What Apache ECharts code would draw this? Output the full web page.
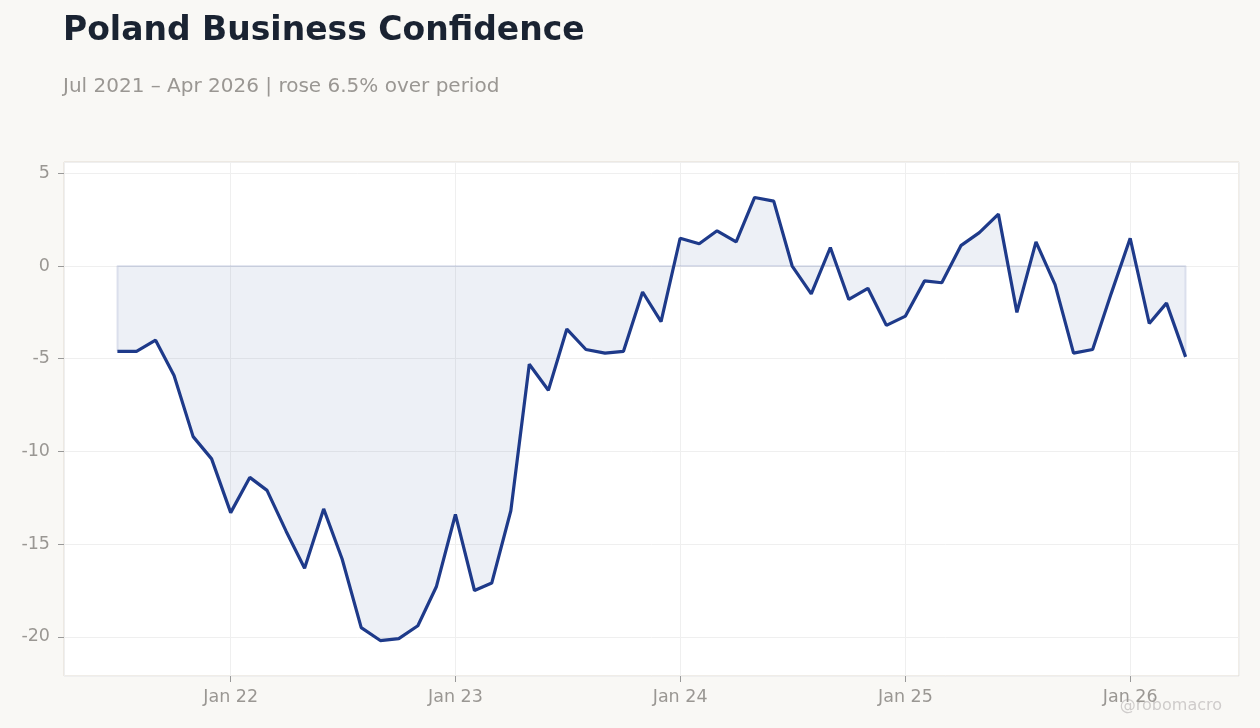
<!DOCTYPE html>
<html>
<head>
<meta charset="utf-8">
<title>Poland Business Confidence</title>
<script src="https://cdn.jsdelivr.net/npm/echarts@6/dist/echarts.min.js"></script>
<style>
  html, body { margin: 0; padding: 0; background: #f9f8f5; }
  #chart { width: 1260px; height: 728px; }
</style>
</head>
<body>
<div id="chart"></div>
<script>
// monthly readings, Jul 2021 - Apr 2026
const months = [
  '2021-07', '2021-08', '2021-09', '2021-10', '2021-11', '2021-12',
  '2022-01', '2022-02', '2022-03', '2022-04', '2022-05', '2022-06',
  '2022-07', '2022-08', '2022-09', '2022-10', '2022-11', '2022-12',
  '2023-01', '2023-02', '2023-03', '2023-04', '2023-05', '2023-06',
  '2023-07', '2023-08', '2023-09', '2023-10', '2023-11', '2023-12',
  '2024-01', '2024-02', '2024-03', '2024-04', '2024-05', '2024-06',
  '2024-07', '2024-08', '2024-09', '2024-10', '2024-11', '2024-12',
  '2025-01', '2025-02', '2025-03', '2025-04', '2025-05', '2025-06',
  '2025-07', '2025-08', '2025-09', '2025-10', '2025-11', '2025-12',
  '2026-01', '2026-02', '2026-03', '2026-04'
];
const confidence = [
  -4.6, -4.6, -4.0, -5.9, -9.2, -10.4,
  -13.3, -11.4, -12.1, -14.3, -16.3, -13.1,
  -15.8, -19.5, -20.2, -20.1, -19.4, -17.3,
  -13.4, -17.5, -17.1, -13.2, -5.3, -6.7,
  -3.4, -4.5, -4.7, -4.6, -1.4, -3.0,
  1.5, 1.2, 1.9, 1.3, 3.7, 3.5,
  0.0, -1.5, 1.0, -1.8, -1.2, -3.2,
  -2.7, -0.8, -0.9, 1.1, 1.8, 2.8,
  -2.5, 1.3, -1.0, -4.7, -4.5, -1.5,
  1.5, -3.1, -2.0, -4.9
];

const titleText = 'Poland Business Confidence';
const subtitleText = 'Jul 2021 \u2013 Apr 2026 | rose 6.5% over period';
const watermark = '@robomacro';

const lineColor = '#1e3a8a';
const fontFamily = '"DejaVu Sans", "Noto Sans", sans-serif';

const points = months.map((m, i) => [m + '-01', confidence[i]]);
const first = points[0];
const last = points[points.length - 1];
// outline of the shaded area along zero and its two ends
const areaEdge = [last, [last[0], 0], [first[0], 0], first];

const chart = echarts.init(document.getElementById('chart'), null, { renderer: 'canvas' });

const option = {
  animation: false,
  backgroundColor: '#f9f8f5',
  textStyle: { fontFamily: fontFamily },
  title: [
    {
      text: titleText,
      left: 63,
      top: 15,
      padding: 0,
      textStyle: { fontSize: 33, fontWeight: 'bold', color: '#1a2332', fontFamily: fontFamily }
    },
    {
      text: subtitleText,
      left: 63,
      top: 77,
      padding: 0,
      textStyle: { fontSize: 20, fontWeight: 'normal', color: '#9a9793', fontFamily: fontFamily }
    }
  ],
  grid: {
    left: 64,
    right: 21,
    top: 162,
    bottom: 52,
    show: true,
    backgroundColor: '#ffffff',
    borderColor: '#e0dad0',
    borderWidth: 1,
    containLabel: false
  },
  xAxis: {
    type: 'time',
    min: function (v) { return v.min - (v.max - v.min) * 0.05; },
    max: function (v) { return v.max + (v.max - v.min) * 0.05; },
    minInterval: 365 * 24 * 3600 * 1000,
    axisLine: { show: false, onZero: false },
    axisTick: { show: true, length: 6, lineStyle: { color: '#999999' } },
    splitLine: { show: true, lineStyle: { color: '#efefef', width: 1 } },
    axisLabel: {
      color: '#9a9793',
      fontSize: 17.5,
      margin: 12,
      showMinLabel: false,
      showMaxLabel: false,
      formatter: function (value) {
        const d = new Date(value);
        return 'Jan ' + String(d.getFullYear()).slice(2);
      }
    }
  },
  yAxis: {
    type: 'value',
    min: function (v) { return v.min - (v.max - v.min) * 0.08; },
    max: function (v) { return v.max + (v.max - v.min) * 0.08; },
    axisLine: { show: false },
    axisTick: { show: true, length: 6, lineStyle: { color: '#999999' } },
    splitLine: { show: true, lineStyle: { color: '#efefef', width: 1 } },
    axisLabel: {
      color: '#9a9793',
      fontSize: 17.5,
      margin: 14,
      showMinLabel: false,
      showMaxLabel: false
    }
  },
  graphic: [
    {
      type: 'text',
      right: 38,
      bottom: 14,
      style: { text: watermark, fontSize: 16, fill: '#cfcccb', fontFamily: fontFamily }
    }
  ],
  series: [
    {
      type: 'line',
      data: areaEdge,
      symbol: 'none',
      silent: true,
      lineStyle: { color: 'rgba(30,58,138,0.12)', width: 2 },
      z: 1
    },
    {
      type: 'line',
      data: points,
      symbol: 'none',
      lineStyle: { color: lineColor, width: 3.2 },
      areaStyle: { color: 'rgba(30,58,138,0.08)', opacity: 1, origin: 0 },
      z: 2
    }
  ]
};

chart.setOption(option);
</script>
</body>
</html>
